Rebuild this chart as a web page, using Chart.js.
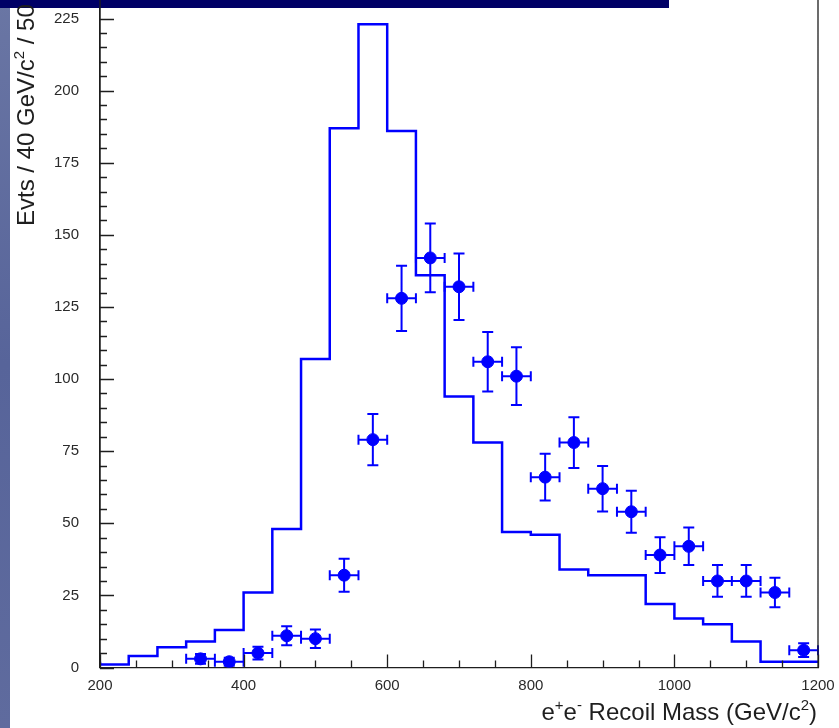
<!DOCTYPE html>
<html>
<head>
<meta charset="utf-8">
<script src="https://cdn.jsdelivr.net/npm/chart.js@4.4.1/dist/chart.umd.min.js"></script>
<style>
  html, body { margin: 0; padding: 0; background: #fff; }
  #wrap { width: 839px; height: 728px; position: relative; }
</style>
</head>
<body>
<div id="wrap"><canvas id="recoil" width="839" height="728"></canvas></div>
<script>
/* e+e- recoil mass: MC histogram (step line) + data points with error bars */

// histogram bin edges (GeV/c^2) and MC counts per 40 GeV bin
const binEdges = [200, 240, 280, 320, 360, 400, 440, 480, 520, 560, 600, 640, 680,
                  720, 760, 800, 840, 880, 920, 960, 1000, 1040, 1080, 1120, 1160, 1200];
const mcCounts = [2, 1, 4, 7, 9, 13, 26, 48, 107, 187, 223, 186, 136,
                  94, 78, 47, 46, 34, 32, 32, 22, 17, 15, 9, 2];

// data points: bin centres, counts, vertical errors, half bin width
const dataMass = [340, 380, 420, 460, 500, 540, 580, 620, 660, 700, 740, 780,
                  820, 860, 900, 940, 980, 1020, 1060, 1100, 1140, 1180];
const dataCounts = [3, 2, 5, 11, 10, 32, 79, 128, 142, 132, 106, 101,
                    66, 78, 62, 54, 39, 42, 30, 30, 26, 6];
const dataErr = [1.7, 1.4, 2.2, 3.3, 3.2, 5.7, 8.9, 11.3, 11.9, 11.5, 10.3, 10.0,
                 8.1, 8.8, 7.9, 7.3, 6.2, 6.5, 5.5, 5.5, 5.1, 2.4];
const dataHalfWidth = 20;

const xTicks = [200, 400, 600, 800, 1000, 1200];
const yTicks = [0, 25, 50, 75, 100, 125, 150, 175, 200, 225];

const BLUE = '#0000ff';
const INK = '#1e1e1e';
const FONT = '"Liberation Sans", Arial, sans-serif';

const histPoints = binEdges.map((e, i) => ({ x: e, y: mcCounts[Math.min(i, mcCounts.length - 1)] }));
const dataPoints = dataMass.map((m, i) => ({ x: m, y: dataCounts[i] }));

// slide background bits: left textured strip and navy title bar
const slideBg = {
  id: 'slideBg',
  beforeDraw(chart) {
    const ctx = chart.ctx;
    ctx.save();
    const g = ctx.createLinearGradient(0, 0, 0, chart.height);
    g.addColorStop(0, '#6a76a4');
    g.addColorStop(0.5, '#57649a');
    g.addColorStop(1, '#5f6b9e');
    ctx.fillStyle = g;
    ctx.fillRect(0, 0, 10, chart.height);
    ctx.restore();
  },
  afterDraw(chart) {
    const ctx = chart.ctx;
    ctx.save();
    ctx.fillStyle = '#000066';
    ctx.fillRect(0, 0, 669, 8);
    ctx.restore();
  }
};

// inward ticks (major + minor) and right frame line
const frameTicks = {
  id: 'frameTicks',
  afterDraw(chart) {
    const { ctx, chartArea: a, scales: { x, y } } = chart;
    ctx.save();
    ctx.strokeStyle = INK;
    ctx.lineWidth = 1.3;
    ctx.beginPath();
    for (let v = 0; v <= 229; v += 5) {
      const py = Math.round(y.getPixelForValue(v)) + 0.5;
      const len = v % 25 === 0 ? 14 : 7;
      ctx.moveTo(a.left, py); ctx.lineTo(a.left + len, py);
    }
    for (let v = 200; v <= 1200; v += 50) {
      const px = Math.round(x.getPixelForValue(v)) + 0.5;
      const len = v % 200 === 0 ? 13 : 7;
      ctx.moveTo(px, a.bottom); ctx.lineTo(px, a.bottom - len);
    }
    ctx.moveTo(a.right, 0); ctx.lineTo(a.right, a.bottom);
    ctx.moveTo(a.left, 0); ctx.lineTo(a.left, a.bottom);
    ctx.stroke();
    ctx.restore();
  }
};

// error bars for the data points
const errorBars = {
  id: 'errorBars',
  afterDatasetsDraw(chart) {
    const { ctx, scales: { x, y } } = chart;
    ctx.save();
    ctx.strokeStyle = BLUE;
    ctx.lineWidth = 2;
    ctx.beginPath();
    dataMass.forEach((m, i) => {
      const px = x.getPixelForValue(m);
      const py = y.getPixelForValue(dataCounts[i]);
      const top = y.getPixelForValue(dataCounts[i] + dataErr[i]);
      const bot = y.getPixelForValue(Math.max(0, dataCounts[i] - dataErr[i]));
      const lft = x.getPixelForValue(m - dataHalfWidth);
      const rgt = x.getPixelForValue(m + dataHalfWidth);
      ctx.moveTo(px, top); ctx.lineTo(px, bot);
      ctx.moveTo(px - 5.5, top); ctx.lineTo(px + 5.5, top);
      ctx.moveTo(px - 5.5, bot); ctx.lineTo(px + 5.5, bot);
      ctx.moveTo(lft, py); ctx.lineTo(rgt, py);
      ctx.moveTo(lft, py - 5); ctx.lineTo(lft, py + 5);
      ctx.moveTo(rgt, py - 5); ctx.lineTo(rgt, py + 5);
    });
    ctx.stroke();
    ctx.restore();
  }
};

// draw text runs with superscripts
function drawRuns(ctx, runs, x, y, align) {
  const big = '24px ' + FONT, small = '15px ' + FONT;
  let total = 0;
  runs.forEach(r => { ctx.font = r.sup ? small : big; total += ctx.measureText(r.t).width; });
  let cx = align === 'right' ? x - total : x;
  ctx.textBaseline = 'alphabetic';
  ctx.textAlign = 'left';
  runs.forEach(r => {
    ctx.font = r.sup ? small : big;
    ctx.fillText(r.t, cx, r.sup ? y - 10 : y);
    cx += ctx.measureText(r.t).width;
  });
}

const axisTitles = {
  id: 'axisTitles',
  afterDraw(chart) {
    const ctx = chart.ctx;
    ctx.save();
    ctx.fillStyle = INK;
    drawRuns(ctx, [{ t: 'e' }, { t: '+', sup: true }, { t: 'e' }, { t: '-', sup: true },
                   { t: ' Recoil Mass (GeV/c' }, { t: '2', sup: true }, { t: ')' }], 817, 720, 'right');
    ctx.translate(34, 226);
    ctx.rotate(-Math.PI / 2);
    drawRuns(ctx, [{ t: 'Evts / 40 GeV/c' }, { t: '2', sup: true }, { t: ' / 50' }], 0, 0, 'left');
    ctx.restore();
  }
};

const noPad = s => { s.paddingTop = 0; s.paddingBottom = 0; s.paddingLeft = 0; s.paddingRight = 0; };

new Chart(document.getElementById('recoil'), {
  data: {
    datasets: [
      { type: 'scatter', data: dataPoints, backgroundColor: BLUE, borderColor: BLUE,
        pointRadius: 6, pointHoverRadius: 6, order: 0 },
      { type: 'line', data: histPoints, stepped: 'after', borderColor: BLUE, borderWidth: 2.5,
        pointRadius: 0, fill: false, order: 1 }
    ]
  },
  options: {
    responsive: false,
    animation: false,
    events: [],
    layout: { padding: { left: 10, right: 21, top: 0, bottom: 0 } },
    plugins: { legend: { display: false }, tooltip: { enabled: false } },
    scales: {
      x: {
        type: 'linear', min: 200, max: 1200,
        afterFit: s => { s.height = 60.5; noPad(s); },
        afterBuildTicks: s => { s.ticks = xTicks.map(v => ({ value: v })); },
        grid: { display: false, drawTicks: false },
        border: { color: INK, width: 1.3 },
        ticks: { color: '#2a2a2a', font: { family: FONT, size: 15 }, padding: 9, maxRotation: 0,
                 callback: v => String(v) }
      },
      y: {
        type: 'linear', min: 0, max: 229,
        afterFit: s => { s.width = 90; noPad(s); },
        afterBuildTicks: s => { s.ticks = yTicks.map(v => ({ value: v })); },
        grid: { display: false, drawTicks: false },
        border: { color: INK, width: 1.3 },
        ticks: { color: '#2a2a2a', font: { family: FONT, size: 15 }, padding: 21,
                 callback: v => String(v) }
      }
    }
  },
  plugins: [slideBg, errorBars, frameTicks, axisTitles]
});
</script>
</body>
</html>
